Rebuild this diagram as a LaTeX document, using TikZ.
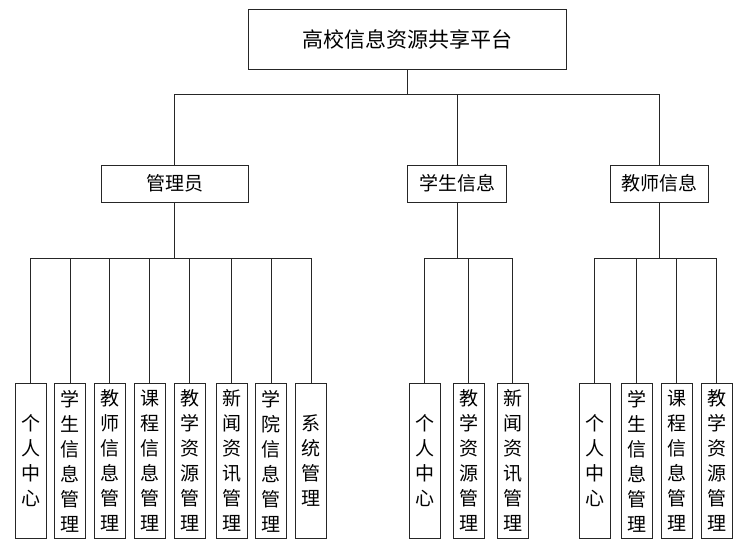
\documentclass[tikz,border=0pt]{standalone}
\usepackage{fontspec}
\setmainfont{Noto Sans CJK SC}
\begin{document}
\begin{tikzpicture}[x=1pt,y=-1pt,
  box/.style={draw=black!85, line width=0.8pt, fill=white, inner sep=0pt},
  midbox/.style={box, minimum height=37pt, font=\fontsize{19}{22}\selectfont},
  leaf/.style={box, anchor=north, minimum width=31pt, minimum height=155pt, align=center, font=\fontsize{19}{25}\selectfont},
  conn/.style={draw=black!85, line width=0.8pt}]
\useasboundingbox (0,0) rectangle (755,547);
\node[box, minimum width=318pt, minimum height=60pt, font=\fontsize{21}{24}\selectfont] (top) at (407,39) {高校信息资源共享平台};
\coordinate (bus) at (407,94);
\node[midbox, minimum width=147pt] (admin) at (174.5,183.5) {管理员};
\node[midbox, minimum width=99pt] (student) at (457,183.5) {学生信息};
\node[midbox, minimum width=98pt] (teacher) at (659,183.5) {教师信息};
\coordinate (lbus) at (0,258);
% admin leaves
\node[leaf] (a1) at (30.5,383) {个\\人\\中\\心};
\node[leaf] (a2) at (70,383) {学\\生\\信\\息\\管\\理};
\node[leaf] (a3) at (109.5,383) {教\\师\\信\\息\\管\\理};
\node[leaf] (a4) at (149.5,383) {课\\程\\信\\息\\管\\理};
\node[leaf] (a5) at (189.5,383) {教\\学\\资\\源\\管\\理};
\node[leaf] (a6) at (231.5,383) {新\\闻\\资\\讯\\管\\理};
\node[leaf] (a7) at (271,383) {学\\院\\信\\息\\管\\理};
\node[leaf] (a8) at (311,383) {系\\统\\管\\理};
% student leaves
\node[leaf] (s1) at (424.5,383) {个\\人\\中\\心};
\node[leaf] (s2) at (468.5,383) {教\\学\\资\\源\\管\\理};
\node[leaf] (s3) at (512.5,383) {新\\闻\\资\\讯\\管\\理};
% teacher leaves
\node[leaf] (t1) at (594.5,383) {个\\人\\中\\心};
\node[leaf] (t2) at (636.5,383) {学\\生\\信\\息\\管\\理};
\node[leaf] (t3) at (676.5,383) {课\\程\\信\\息\\管\\理};
\node[leaf] (t4) at (716.5,383) {教\\学\\资\\源\\管\\理};
% top level connectors
\draw[conn] (top.south) -- (bus);
\draw[conn] (admin.north) |- (teacher.north |- bus) -- (teacher.north);
\draw[conn] (student.north) -- (student.north |- bus);
% admin connectors
\draw[conn] (admin.south) -- (admin.south |- lbus);
\draw[conn] (a1.north) |- (a8.north |- lbus) -- (a8.north);
\foreach \n in {a2,a3,a4,a5,a6,a7} \draw[conn] (\n.north) -- (\n.north |- lbus);
% student connectors
\draw[conn] (student.south) -- (student.south |- lbus);
\draw[conn] (s1.north) |- (s3.north |- lbus) -- (s3.north);
\draw[conn] (s2.north) -- (s2.north |- lbus);
% teacher connectors
\draw[conn] (teacher.south) -- (teacher.south |- lbus);
\draw[conn] (t1.north) |- (t4.north |- lbus) -- (t4.north);
\foreach \n in {t2,t3} \draw[conn] (\n.north) -- (\n.north |- lbus);
\end{tikzpicture}
\end{document}
